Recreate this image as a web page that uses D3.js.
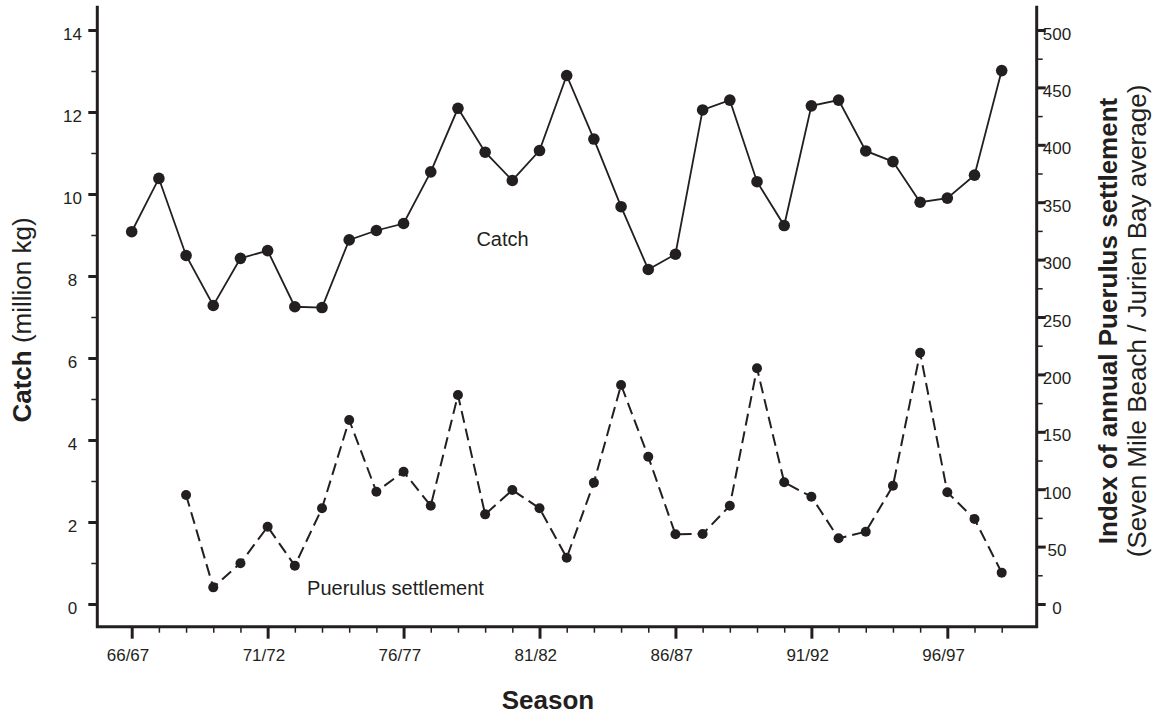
<!DOCTYPE html>
<html>
<head>
<meta charset="utf-8">
<script src="https://cdn.jsdelivr.net/npm/d3@7"></script>
<style>
  html, body { margin: 0; padding: 0; background: #fff; }
  svg { display: block; font-family: "Liberation Sans", Arial, sans-serif; }
</style>
</head>
<body>
<svg id="chart" width="1160" height="716"></svg>
<script>
// ---- Data ----
const seasons = ["66/67","67/68","68/69","69/70","70/71","71/72","72/73","73/74","74/75","75/76",
  "76/77","77/78","78/79","79/80","80/81","81/82","82/83","83/84","84/85","85/86",
  "86/87","87/88","88/89","89/90","90/91","91/92","92/93","93/94","94/95","95/96",
  "96/97","97/98","98/99"];
const catchValues = [9.08, 10.38, 8.50, 7.28, 8.43, 8.62, 7.25, 7.23, 8.88, 9.11,
  9.28, 10.54, 12.09, 11.02, 10.33, 11.06, 12.89, 11.34, 9.69, 8.16,
  8.53, 12.05, 12.29, 10.30, 9.23, 12.15, 12.29, 11.05, 10.79, 9.80,
  9.90, 10.46, 13.01];
const puerulusValues = [null, null, 94.9, 14.5, 35.5, 67.3, 33.4, 83.4, 160.3, 97.8,
  115.2, 85.6, 182.1, 78.1, 99.3, 83.4, 40.3, 105.7, 190.8, 128.3,
  60.7, 61.0, 85.6, 205.3, 106.0, 93.5, 57.2, 63.0, 103.0, 218.9,
  97.3, 74.0, 27.3];
const labelledSeasons = ["66/67","71/72","76/77","81/82","86/87","91/92","96/97"];
const leftTicks = [0, 2, 4, 6, 8, 10, 12, 14];
const leftMinorTicks = [1, 3, 5, 7, 9, 11, 13];
const rightTicks = [0, 50, 100, 150, 200, 250, 300, 350, 400, 450, 500];
const rightMinorTicks = [25, 75, 125, 175, 225, 275, 325, 375, 425, 475];

// ---- Layout ----
const ink = "#231f20";
const frame = { left: 97.3, right: 1036.7, top: 7.3, bottom: 626.7 };
const svg = d3.select("#chart");

const x = d3.scalePoint().domain(seasons).range([131.7, 1001.7]);
const yL = d3.scaleLinear().domain([0, 14]).range([604, 30]);
const yR = d3.scaleLinear().domain([0, 500]).range([604, 30]);

function styleAxis(g, width) {
  g.select(".domain").remove();
  g.selectAll(".tick line").attr("stroke", ink).attr("stroke-width", width);
}

// Left axis ticks
svg.append("g").attr("transform", `translate(${frame.left},0)`)
  .call(d3.axisLeft(yL).tickValues(leftTicks).tickSize(9).tickFormat(() => ""))
  .call(g => styleAxis(g, 3));
svg.append("g").attr("transform", `translate(${frame.left},0)`)
  .call(d3.axisLeft(yL).tickValues(leftMinorTicks).tickSize(6).tickFormat(() => ""))
  .call(g => styleAxis(g, 1.5));
svg.append("g").selectAll("text").data(leftTicks).join("text")
  .attr("x", 72.5).attr("y", d => yL(d) + 9.5)
  .attr("text-anchor", "middle").attr("font-size", 17).attr("fill", ink)
  .text(d => d);

// Right axis ticks
svg.append("g").attr("transform", `translate(${frame.right},0)`)
  .call(d3.axisRight(yR).tickValues(rightTicks).tickSize(9).tickFormat(() => ""))
  .call(g => styleAxis(g, 3));
svg.append("g").attr("transform", `translate(${frame.right},0)`)
  .call(d3.axisRight(yR).tickValues(rightMinorTicks).tickSize(6).tickFormat(() => ""))
  .call(g => styleAxis(g, 1.5));
svg.append("g").selectAll("text").data(rightTicks).join("text")
  .attr("x", 1057).attr("y", d => yR(d) + 9.5)
  .attr("text-anchor", "middle").attr("font-size", 17).attr("fill", ink)
  .text(d => d);

// Bottom axis ticks
svg.append("g").attr("transform", `translate(0,${frame.bottom})`)
  .call(d3.axisBottom(x).tickValues(labelledSeasons).tickSize(12).tickFormat(() => ""))
  .call(g => styleAxis(g, 3));
svg.append("g").attr("transform", `translate(0,${frame.bottom})`)
  .call(d3.axisBottom(x).tickValues(seasons.filter(s => !labelledSeasons.includes(s))).tickSize(6).tickFormat(() => ""))
  .call(g => styleAxis(g, 1.5));
svg.append("g").selectAll("text").data(labelledSeasons).join("text")
  .attr("x", d => x(d) - 3.7).attr("y", 660.7)
  .attr("text-anchor", "middle").attr("font-size", 17).attr("fill", ink)
  .text(d => d);

// Frame lines (left, bottom, right)
svg.append("path")
  .attr("d", `M${frame.left},${frame.top} V${frame.bottom} H${frame.right} V${frame.top}`)
  .attr("fill", "none").attr("stroke", ink).attr("stroke-width", 3)
  .attr("stroke-linejoin", "miter").attr("stroke-linecap", "square");

// ---- Series ----
const catchData = seasons.map((s, i) => ({ s, v: catchValues[i] }));
const puerData = seasons.map((s, i) => ({ s, v: puerulusValues[i] }));

svg.append("path").datum(catchData)
  .attr("fill", "none").attr("stroke", ink).attr("stroke-width", 1.8)
  .attr("d", d3.line().x(d => x(d.s)).y(d => yL(d.v)));
svg.append("g").selectAll("circle").data(catchData).join("circle")
  .attr("cx", d => x(d.s)).attr("cy", d => yL(d.v)).attr("r", 5.8).attr("fill", ink);

const puerDefined = puerData.filter(d => d.v != null);
svg.append("path").datum(puerData)
  .attr("fill", "none").attr("stroke", ink).attr("stroke-width", 2)
  .attr("stroke-dasharray", "12,6")
  .attr("d", d3.line().defined(d => d.v != null).x(d => x(d.s)).y(d => yR(d.v)));
svg.append("g").selectAll("circle").data(puerDefined).join("circle")
  .attr("cx", d => x(d.s)).attr("cy", d => yR(d.v)).attr("r", 5).attr("fill", ink);

// ---- Annotations ----
svg.append("text").attr("x", 502.5).attr("y", 246).attr("text-anchor", "middle")
  .attr("font-size", 20).attr("fill", ink).text("Catch");
svg.append("text").attr("x", 395.5).attr("y", 595.3).attr("text-anchor", "middle")
  .attr("font-size", 20).attr("fill", ink).text("Puerulus settlement");

// ---- Axis titles ----
const lt = svg.append("text").attr("transform", "translate(31,320) rotate(-90)")
  .attr("text-anchor", "middle").attr("font-size", 26).attr("fill", ink);
lt.append("tspan").attr("font-weight", "bold").text("Catch");
lt.append("tspan").text(" (million kg)");

svg.append("text").attr("transform", "translate(1117,321) rotate(-90)")
  .attr("text-anchor", "middle").attr("font-size", 26).attr("font-weight", "bold").attr("fill", ink)
  .text("Index of annual Puerulus settlement");
svg.append("text").attr("transform", "translate(1146,321) rotate(-90)")
  .attr("text-anchor", "middle").attr("font-size", 26).attr("fill", ink)
  .text("(Seven Mile Beach / Jurien Bay average)");

svg.append("text").attr("x", 548).attr("y", 709).attr("text-anchor", "middle")
  .attr("font-size", 26).attr("font-weight", "bold").attr("fill", ink)
  .text("Season");
</script>
</body>
</html>
